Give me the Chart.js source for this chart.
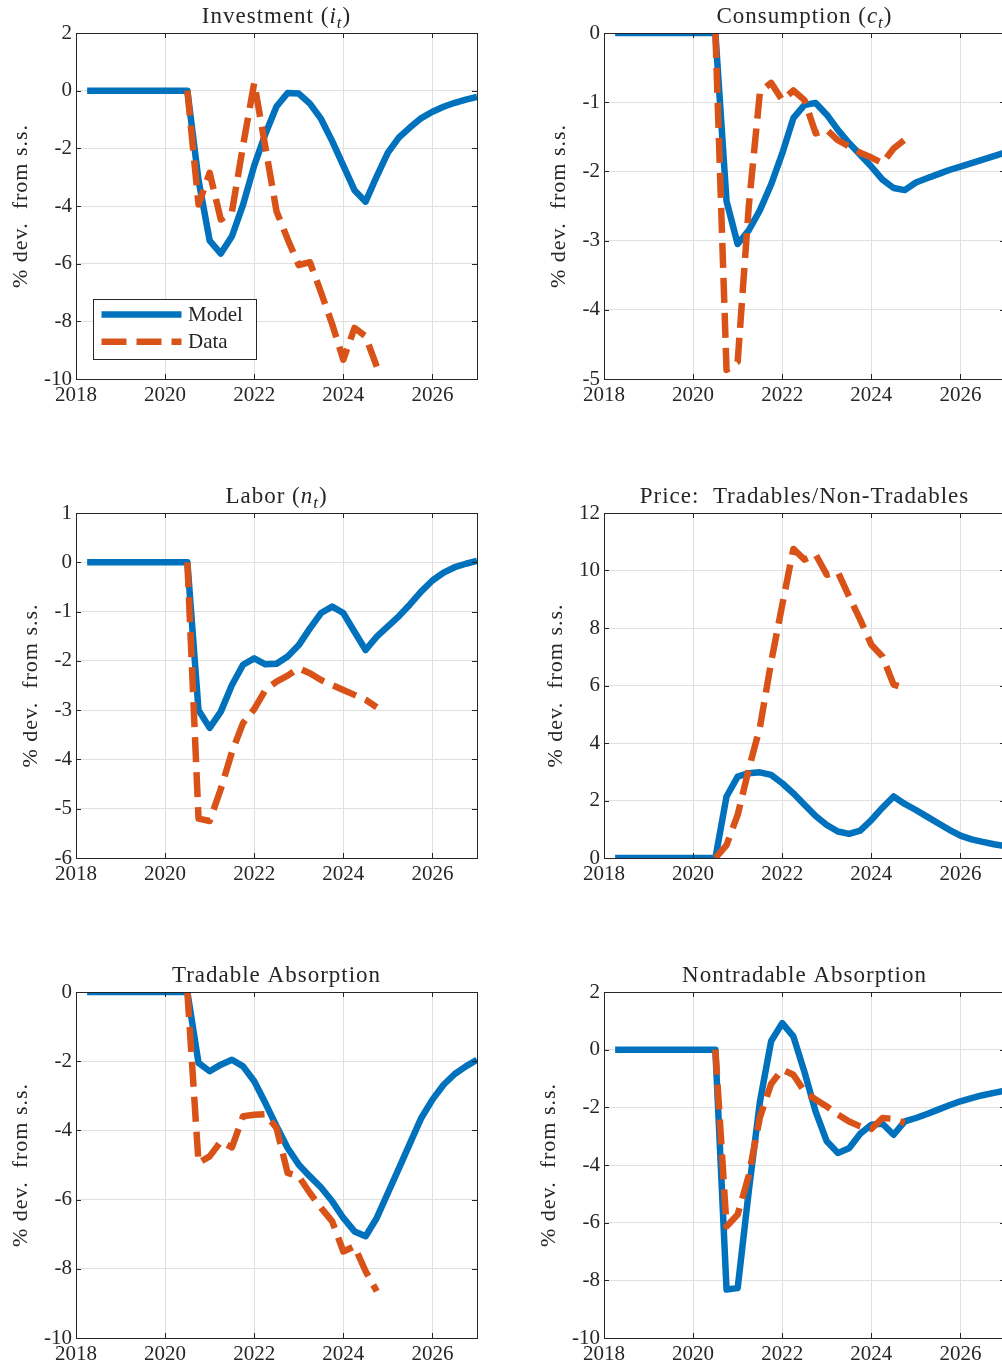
<!DOCTYPE html>
<html>
<head>
<meta charset="utf-8">
<script src="https://cdn.jsdelivr.net/npm/chart.js@4.4.1/dist/chart.umd.min.js"></script>
<style>
html,body{margin:0;padding:0;width:1002px;height:1366px;overflow:hidden;background:#fff}
canvas{position:absolute}
</style>
</head>
<body>
<script>
// ---------------- DATA ----------------
const quarters = [2018.25, 2018.5, 2018.75, 2019, 2019.25, 2019.5, 2019.75, 2020, 2020.25, 2020.5,
  2020.75, 2021, 2021.25, 2021.5, 2021.75, 2022, 2022.25, 2022.5, 2022.75, 2023, 2023.25, 2023.5,
  2023.75, 2024, 2024.25, 2024.5, 2024.75, 2025, 2025.25, 2025.5, 2025.75, 2026, 2026.25, 2026.5,
  2026.75, 2027];
const dataQuarters = [2020.5, 2020.75, 2021, 2021.25, 2021.5, 2021.75, 2022, 2022.25, 2022.5,
  2022.75, 2023, 2023.25, 2023.5, 2023.75, 2024, 2024.25, 2024.5, 2024.75];

const xTicksMin = 2018, xTicksMax = 2027, xTickStep = 2;

const titles = ['Investment ($i_t$)', 'Consumption ($c_t$)', 'Labor ($n_t$)',
  'Price:  Tradables/Non-Tradables', 'Tradable Absorption', 'Nontradable Absorption'];
const yAxisLabel = '% dev.  from s.s.';
const seriesLabels = ['Model', 'Data'];

const yMins  = [-10, -5, -6, 0, -10, -10];
const yMaxs  = [2, 0, 1, 12, 0, 2];
const ySteps = [2, 1, 1, 2, 2, 2];

const investmentModel = [0,0,0,0,0,0,0,0,0,0,
  -3.1, -5.2, -5.65, -5.05, -3.95, -2.6, -1.5, -0.55, -0.08, -0.1, -0.45, -0.98, -1.75, -2.6,
  -3.45, -3.85, -2.97, -2.15, -1.62, -1.27, -0.95, -0.73, -0.56, -0.42, -0.31, -0.22];
const investmentData = [0, -3.95, -2.85, -4.47, -4.2, -1.9, 0.27, -1.95, -4.18, -5.15, -6.05,
  -5.95, -7.0, -8.1, -9.33, -8.23, -8.52, -9.57];

const consumptionModel = [0,0,0,0,0,0,0,0,0,0,
  -2.43, -3.05, -2.85, -2.56, -2.19, -1.74, -1.23, -1.04, -1.01, -1.18, -1.40, -1.59, -1.76,
  -1.93, -2.12, -2.24, -2.27, -2.16, -2.1, -2.04, -1.98, -1.93, -1.88, -1.83, -1.78, -1.73];
const consumptionData = [0, -4.87, -4.75, -2.5, -0.85, -0.72, -0.97, -0.83, -0.97, -1.45, -1.4,
  -1.55, -1.64, -1.73, -1.8, -1.88, -1.67, -1.54];

const laborModel = [0,0,0,0,0,0,0,0,0,0,
  -3.0, -3.36, -3.03, -2.49, -2.08, -1.95, -2.07, -2.06, -1.91, -1.68, -1.34, -1.03, -0.9,
  -1.03, -1.41, -1.78, -1.51, -1.3, -1.09, -0.85, -0.59, -0.37, -0.21, -0.1, -0.03, 0.03];
const laborData = [0, -5.2, -5.25, -4.6, -3.85, -3.26, -2.98, -2.59, -2.42, -2.3, -2.15, -2.25,
  -2.39, -2.49, -2.59, -2.69, -2.79, -2.94];

const priceModel = [0,0,0,0,0,0,0,0,0,0,
  2.14, 2.83, 2.95, 2.98, 2.89, 2.6, 2.25, 1.85, 1.46, 1.15, 0.92, 0.84, 0.95, 1.32, 1.75,
  2.14, 1.88, 1.67, 1.44, 1.21, 0.98, 0.78, 0.65, 0.56, 0.48, 0.42];
const priceData = [0, 0.45, 1.5, 3.1, 4.55, 6.8, 8.8, 10.75, 10.38, 10.56, 9.85, 9.94, 9.1,
  8.29, 7.42, 7.01, 6.03, 5.91];

const tradableModel = [0,0,0,0,0,0,0,0,0,0,
  -2.05, -2.29, -2.1, -1.96, -2.15, -2.58, -3.21, -3.88, -4.51, -4.99, -5.33, -5.65, -6.05,
  -6.53, -6.92, -7.06, -6.53, -5.81, -5.09, -4.36, -3.64, -3.11, -2.68, -2.37, -2.15, -1.96];
const tradableData = [0, -4.94, -4.75, -4.32, -4.49, -3.59, -3.55, -3.53, -3.93, -5.23, -5.33,
  -5.81, -6.24, -6.63, -7.5, -7.35, -8.07, -8.65];

const nontradableModel = [0,0,0,0,0,0,0,0,0,0,
  -8.32, -8.27, -4.9, -1.8, 0.29, 0.92, 0.46, -0.78, -2.15, -3.18, -3.58, -3.42, -2.92, -2.6,
  -2.57, -2.95, -2.49, -2.37, -2.23, -2.08, -1.93, -1.79, -1.68, -1.58, -1.5, -1.42];
const nontradableData = [0, -6.13, -5.72, -4.36, -2.34, -1.19, -0.69, -0.87, -1.45, -1.73, -1.97,
  -2.25, -2.49, -2.66, -2.75, -2.37, -2.4, -2.54];

const modelSeries = [investmentModel, consumptionModel, laborModel, priceModel, tradableModel, nontradableModel];
const dataSeries  = [investmentData, consumptionData, laborData, priceData, tradableData, nontradableData];

// ---------------- STYLE / LAYOUT ----------------
const BLUE = '#0072BD', ORANGE = '#D95319', AXIS = '#262626', GRID = '#e0e0e0';
const FONT = '"Liberation Serif", "Times New Roman", serif';
const TICK_SIZE = 21, TITLE_SIZE = 23, YLAB_SIZE = 22, TICK_LEN = 5;
const LINE_W = 6.5, DASH = [25, 10];
const plotBoxes = [
  {l: 76, t: 33, r: 477, b: 379}, {l: 604, t: 33, r: 1005, b: 379},
  {l: 76, t: 513, r: 477, b: 858}, {l: 604, t: 513, r: 1005, b: 858},
  {l: 76, t: 992, r: 477, b: 1338}, {l: 604, t: 992, r: 1005, b: 1338}
];
const Y_AXIS_W = 76, TOP_PAD = 33, CANVAS_W = 500;

function richParts(str, size) {
  const parts = [];
  const re = /\$([^_$]+)_([^$]+)\$/g;
  let last = 0, m;
  while ((m = re.exec(str))) {
    if (m.index > last) parts.push({t: str.slice(last, m.index), f: `${size}px ${FONT}`, dy: 0});
    parts.push({t: m[1], f: `italic ${size}px ${FONT}`, dy: 0});
    parts.push({t: m[2], f: `italic ${Math.round(size * 0.72)}px ${FONT}`, dy: size * 0.2});
    last = re.lastIndex;
  }
  if (last < str.length) parts.push({t: str.slice(last), f: `${size}px ${FONT}`, dy: 0});
  return parts;
}

function drawRich(ctx, str, cx, y, size) {
  const parts = richParts(str, size);
  let total = 0;
  parts.forEach(p => { ctx.font = p.f; p.w = ctx.measureText(p.t).width; total += p.w; });
  let x = cx - total / 2;
  ctx.textAlign = 'left';
  ctx.textBaseline = 'alphabetic';
  parts.forEach(p => { ctx.font = p.f; ctx.fillText(p.t, x, y + p.dy); x += p.w; });
}

function decor(idx) {
  return {
    id: 'decor' + idx,
    afterDatasetsDraw(chart) {
      const ctx = chart.ctx, a = chart.chartArea;
      const xs = chart.scales.x, ys = chart.scales.y;
      ctx.save();
      ctx.strokeStyle = AXIS;
      ctx.lineWidth = 1;
      ctx.setLineDash([]);
      ctx.beginPath();
      ys.ticks.forEach(t => {
        const py = Math.round(ys.getPixelForValue(t.value)) + 0.5;
        ctx.moveTo(a.left, py); ctx.lineTo(a.left + TICK_LEN, py);
        ctx.moveTo(a.right, py); ctx.lineTo(a.right - TICK_LEN, py);
      });
      xs.ticks.forEach(t => {
        const px = Math.round(xs.getPixelForValue(t.value)) + 0.5;
        ctx.moveTo(px, a.bottom); ctx.lineTo(px, a.bottom - TICK_LEN);
        ctx.moveTo(px, a.top); ctx.lineTo(px, a.top + TICK_LEN);
      });
      ctx.stroke();
      ctx.strokeRect(a.left + 0.5, a.top + 0.5, a.right - a.left, a.bottom - a.top);

      // title
      ctx.fillStyle = AXIS;
      ctx.letterSpacing = '1px';
      drawRich(ctx, titles[idx], (a.left + a.right) / 2, a.top - 10, TITLE_SIZE);

      // y label
      ctx.letterSpacing = '0px';
      ctx.font = `${TICK_SIZE}px ${FONT}`;
      let wMax = 0;
      ys.ticks.forEach(t => { wMax = Math.max(wMax, ctx.measureText(String(t.label)).width); });
      const lx = a.left - 4 - wMax - 23;
      const ly = (a.top + a.bottom) / 2;
      ctx.save();
      ctx.translate(lx, ly);
      ctx.rotate(-Math.PI / 2);
      ctx.letterSpacing = '1px';
      ctx.font = `${YLAB_SIZE}px ${FONT}`;
      ctx.textAlign = 'center';
      ctx.textBaseline = 'middle';
      ctx.fillText(yAxisLabel, 0, 0);
      ctx.restore();

      // legend (first panel only)
      if (idx === 0) {
        const L = a.left + 17, T = a.bottom - 80, W = 163, H = 60;
        ctx.fillStyle = '#fff';
        ctx.fillRect(L, T, W, H);
        ctx.strokeStyle = AXIS;
        ctx.lineWidth = 1;
        ctx.strokeRect(L + 0.5, T + 0.5, W, H);
        const order = [1, 0]; // Model, Data
        order.forEach((di, j) => {
          const ds = chart.data.datasets[di];
          const yy = T + 15.5 + j * 27.3;
          ctx.strokeStyle = ds.borderColor;
          ctx.lineWidth = ds.borderWidth;
          ctx.setLineDash(ds.borderDash || []);
          ctx.lineCap = 'butt';
          ctx.beginPath();
          ctx.moveTo(L + 8.5, yy); ctx.lineTo(L + 88.5, yy);
          ctx.stroke();
          ctx.setLineDash([]);
          ctx.fillStyle = AXIS;
          ctx.font = `${TICK_SIZE}px ${FONT}`;
          ctx.textAlign = 'left';
          ctx.textBaseline = 'middle';
          ctx.fillText(ds.label, L + 95, yy + 1);
        });
      }
      ctx.restore();
    }
  };
}

function makePanel(idx) {
  const box = plotBoxes[idx];
  const cl = box.l - Y_AXIS_W, ct = box.t - TOP_PAD;
  const H = Math.min(420, 1366 - ct);
  const xAxisH = H - (box.b - ct);
  const cv = document.createElement('canvas');
  cv.width = CANVAS_W; cv.height = H;
  cv.style.left = cl + 'px'; cv.style.top = ct + 'px';
  cv.style.width = CANVAS_W + 'px'; cv.style.height = H + 'px';
  document.body.appendChild(cv);

  const modelPts = quarters.map((q, k) => ({x: q, y: modelSeries[idx][k]}));
  const dataPts = dataQuarters.map((q, k) => ({x: q, y: dataSeries[idx][k]}));
  const tickFont = {family: FONT, size: TICK_SIZE, lineHeight: 1};

  new Chart(cv, {
    type: 'line',
    data: {
      datasets: [
        {label: seriesLabels[1], data: dataPts, borderColor: ORANGE, borderWidth: LINE_W,
         borderDash: DASH, pointRadius: 0, fill: false, tension: 0, order: 0, borderJoinStyle: 'round'},
        {label: seriesLabels[0], data: modelPts, borderColor: BLUE, borderWidth: LINE_W,
         pointRadius: 0, fill: false, tension: 0, order: 1, borderJoinStyle: 'round'}
      ]
    },
    options: {
      responsive: false, animation: false, devicePixelRatio: 1,
      events: [],
      layout: {autoPadding: false, padding: {left: 0, top: TOP_PAD, right: CANVAS_W - (box.r - cl), bottom: 0}},
      plugins: {legend: {display: false}, tooltip: {enabled: false}, title: {display: false}},
      scales: {
        x: {
          type: 'linear', min: xTicksMin, max: xTicksMax,
          ticks: {stepSize: xTickStep, includeBounds: false, autoSkip: false, maxRotation: 0,
                  callback: v => String(v), font: tickFont, color: AXIS, padding: 6},
          grid: {color: GRID, lineWidth: 1, drawTicks: false},
          border: {display: false},
          afterFit: s => { s.height = xAxisH; }
        },
        y: {
          type: 'linear', min: yMins[idx], max: yMaxs[idx],
          ticks: {stepSize: ySteps[idx], includeBounds: false, autoSkip: false,
                  callback: v => String(v), font: tickFont, color: AXIS, padding: 4},
          grid: {color: GRID, lineWidth: 1, drawTicks: false},
          border: {display: false},
          afterFit: s => { s.width = Y_AXIS_W; }
        }
      }
    },
    plugins: [decor(idx)]
  });
}

for (let i = 0; i < 6; i++) makePanel(i);
</script>
</body>
</html>
